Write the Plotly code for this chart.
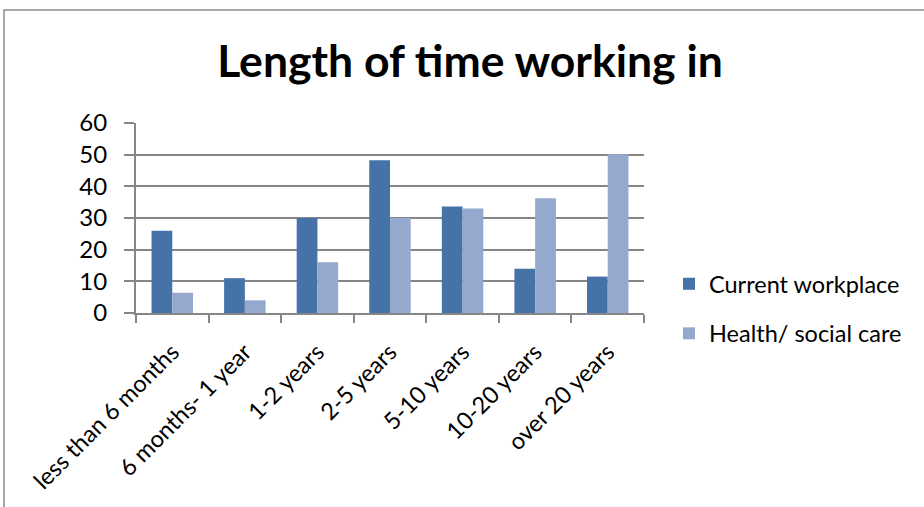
import plotly.graph_objects as go

categories = ["less than 6 months", "6 months- 1 year", "1-2 years", "2-5 years",
              "5-10 years", "10-20 years", "over 20 years"]
current_workplace = [26, 11, 30, 48.2, 33.6, 14, 11.5]
health_social_care = [6.4, 4, 16, 30, 33, 36.2, 50.1]
y_ticks = [0, 10, 20, 30, 40, 50, 60]

W, H = 924, 507
L, R, T, B = 136, 280, 123, 194
plot_w = W - L - R
plot_h = H - T - B

grid_col = "#868686"
font_family = "Lato, 'Open Sans', sans-serif"

fig = go.Figure()
fig.add_trace(go.Bar(x=categories, y=current_workplace, name="Current workplace",
                     marker=dict(color="#4572A7", line=dict(width=0)),
                     legendgroup="a"))
fig.add_trace(go.Bar(x=categories, y=health_social_care, name="Health/ social care",
                     marker=dict(color="#95A9CF", line=dict(width=0)),
                     legendgroup="b"))

# outer chart frame
fig.add_shape(type="rect", xref="paper", yref="paper",
              x0=(4 - L) / plot_w, x1=(W + 20 - L) / plot_w,
              y0=-(H + 20 - T - plot_h) / plot_h, y1=1 + (T - 10) / plot_h,
              line=dict(color="#8c8c8c", width=1.5), fillcolor="rgba(0,0,0,0)",
              layer="below")

fig.update_layout(
    width=W, height=H,
    margin=dict(l=L, r=R, t=T, b=B, pad=0),
    paper_bgcolor="white", plot_bgcolor="white",
    barmode="group", bargap=1.5 / 3.5, bargroupgap=0,
    title=dict(text="<b>Length of time working in</b>",
               font=dict(family=font_family, size=44.5, color="black"),
               xref="container", x=470 / W, xanchor="center",
               yref="container", y=1 - 61 / H, yanchor="middle"),
    font=dict(family=font_family, color="black"),
    legend=dict(x=(669 - L) / plot_w, xanchor="left",
                y=1 - (262 - T) / plot_h, yanchor="top",
                font=dict(size=23.5, family=font_family, color="black"),
                tracegroupgap=16, traceorder="grouped",
                itemsizing="constant", bgcolor="rgba(0,0,0,0)"),
    showlegend=True,
)

fig.update_xaxes(
    type="category", tickangle=-45,
    tickfont=dict(size=23.5, family=font_family, color="black"),
    showline=True, linecolor=grid_col, linewidth=2,
    ticks="outside", tickson="boundaries", ticklen=8, tickwidth=2, tickcolor=grid_col,
    ticklabelstandoff=14,
    showgrid=False, zeroline=False,
)
fig.update_yaxes(
    range=[0, 60], tickvals=y_ticks,
    tickfont=dict(size=24, family=font_family, color="black"),
    showline=True, linecolor=grid_col, linewidth=2,
    ticks="outside", ticklen=10, tickwidth=2, tickcolor=grid_col,
    ticklabelstandoff=12,
    showgrid=True, gridcolor=grid_col, gridwidth=2, zeroline=False,
)

fig.write_html("out.html")
